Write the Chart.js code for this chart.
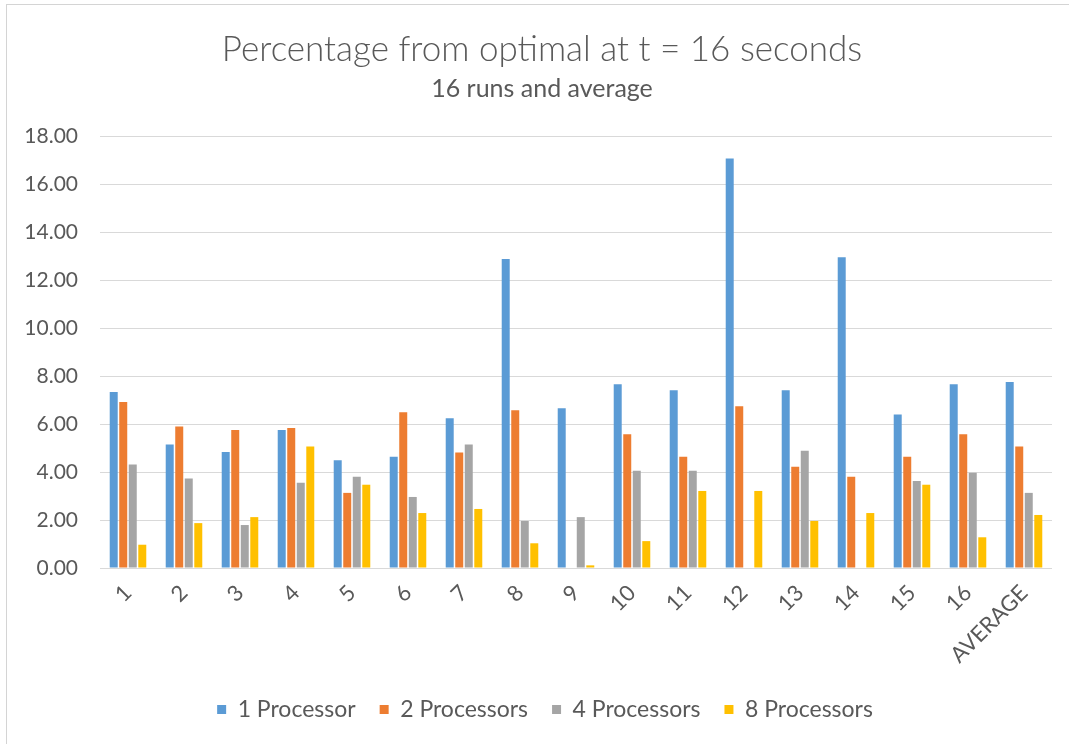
<!DOCTYPE html>
<html>
<head>
<meta charset="utf-8">
<script src="https://cdn.jsdelivr.net/npm/chart.js@4"></script>
<style>
  html, body { margin: 0; padding: 0; background: #ffffff; }
  #wrap { position: absolute; left: 0; top: 0; width: 1069px; height: 744px; }
  #frame { position: absolute; left: 6px; top: 4px; width: 1063px; height: 740px;
           border-left: 1px solid #d4d4d4; border-top: 1px solid #d4d4d4; pointer-events: none; }
</style>
</head>
<body>
<div id="wrap"><canvas id="chart" width="1069" height="744"></canvas></div>
<div id="frame"></div>
<script>
// Run labels along the category axis
const categories = ['1','2','3','4','5','6','7','8','9','10','11','12','13','14','15','16','AVERAGE'];

// Percentage from optimal for each run, per processor count
const oneProcessor   = [7.33, 5.15, 4.83, 5.75, 4.49, 4.64, 6.24, 12.87, 6.66, 7.66, 7.41, 17.06, 7.41, 12.95, 6.40, 7.66, 7.75];
const twoProcessors  = [6.92, 5.90, 5.75, 5.83, 3.13, 6.49, 4.81, 6.57, 0.00, 5.57, 4.64, 6.74, 4.22, 3.80, 4.64, 5.57, 5.06];
const fourProcessors = [4.31, 3.73, 1.79, 3.55, 3.80, 2.96, 5.15, 1.96, 2.12, 4.05, 4.05, 0.00, 4.89, 0.00, 3.63, 3.97, 3.13];
const eightProcessors= [0.97, 1.87, 2.12, 5.06, 3.47, 2.29, 2.46, 1.03, 0.11, 1.12, 3.21, 3.21, 1.96, 2.29, 3.47, 1.28, 2.21];

// Value axis ticks
const yTicks = [0, 2, 4, 6, 8, 10, 12, 14, 16, 18];

const seriesNames  = ['1 Processor', '2 Processors', '4 Processors', '8 Processors'];
const seriesColors = ['#5B9BD5', '#ED7D31', '#A5A5A5', '#FFC000'];
const seriesData   = [oneProcessor, twoProcessors, fourProcessors, eightProcessors];

const TITLE = 'Percentage from optimal at t = 16 seconds';
const SUBTITLE = '16 runs and average';

const FONT = "'Lato', 'Liberation Sans', sans-serif";
const TEXT = '#595959';

// Centre the headings and the legend on the whole frame rather than the
// area left of the right padding.
const centerShift = {
  id: 'centerShift',
  afterLayout(chart) {
    chart.boxes.forEach(b => {
      if (b === chart.legend) {
        b.left += 19; b.right += 19;
      } else if (b.options && (b.options.text === TITLE || b.options.text === SUBTITLE)) {
        b.left += 16; b.right += 16;
      }
    });
  }
};

new Chart(document.getElementById('chart'), {
  type: 'bar',
  data: {
    labels: categories,
    datasets: seriesData.map((d, i) => ({
      label: seriesNames[i],
      data: d,
      backgroundColor: seriesColors[i],
      borderWidth: 0,
      categoryPercentage: 0.68,
      barPercentage: 0.84
    }))
  },
  plugins: [centerShift],
  options: {
    responsive: false,
    animation: false,
    devicePixelRatio: 1,
    layout: { padding: { left: 0, right: 17, top: 0, bottom: 13 } },
    plugins: {
      title: {
        display: true,
        text: TITLE,
        color: TEXT,
        font: { family: FONT, size: 35, weight: '300' },
        padding: { top: 29, bottom: 3 }
      },
      subtitle: {
        display: true,
        text: SUBTITLE,
        color: TEXT,
        font: { family: FONT, size: 25 },
        padding: { top: 0, bottom: 32 }
      },
      legend: {
        position: 'bottom',
        labels: {
          color: TEXT,
          font: { family: FONT, size: 23 },
          boxWidth: 9,
          boxHeight: 9,
          padding: 24
        }
      },
      tooltip: { enabled: false }
    },
    scales: {
      x: {
        grid: { display: false },
        border: { display: false },
        ticks: {
          color: TEXT,
          font: { family: FONT, size: 22 },
          minRotation: 45,
          maxRotation: 45,
          padding: 4
        },
        afterFit: s => { s.height = 106; }
      },
      y: {
        min: 0,
        max: 18,
        afterBuildTicks: s => { s.ticks = yTicks.map(v => ({ value: v })); },
        grid: { color: '#D9D9D9', lineWidth: 1, drawTicks: false },
        border: { display: false },
        ticks: {
          color: TEXT,
          font: { family: FONT, size: 21 },
          padding: 22,
          callback: v => Number(v).toFixed(2)
        },
        afterFit: s => { s.width = 100; }
      }
    }
  }
});
</script>
</body>
</html>
